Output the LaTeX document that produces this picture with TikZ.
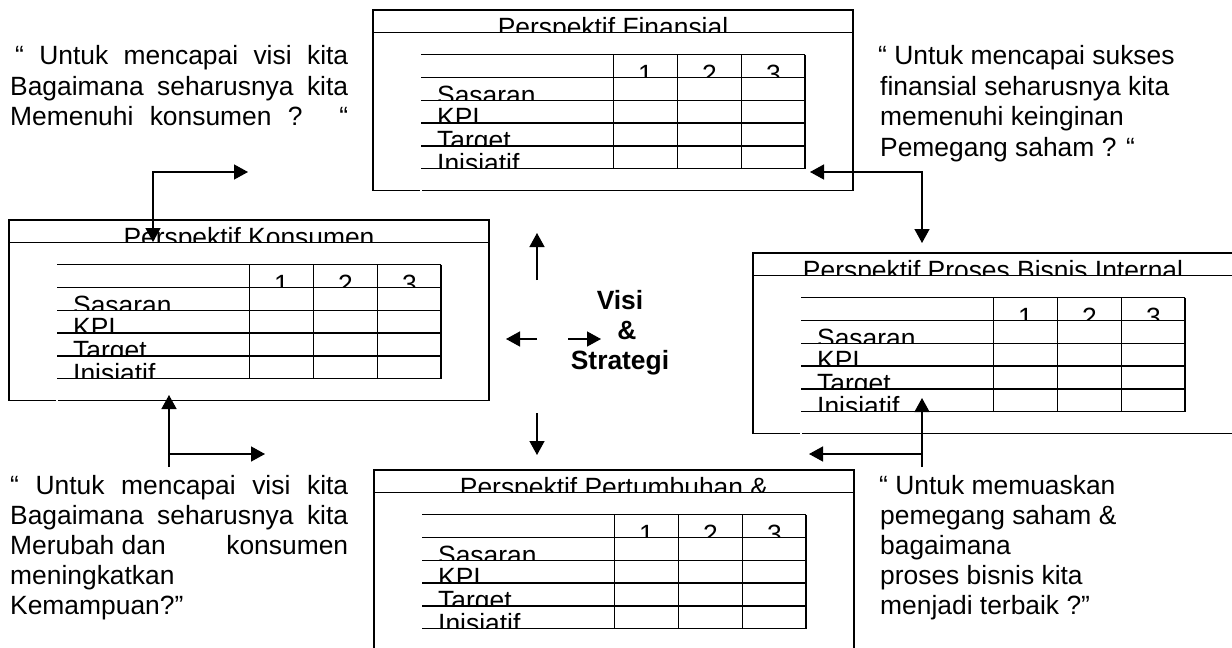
\documentclass[tikz,border=0pt]{standalone}
\usepackage{fontspec}
\setmainfont{Liberation Sans}
\usetikzlibrary{arrows.meta}

\newcommand\bigfont{\fontsize{26.4}{30.4}\selectfont}

\tikzset{
  frame/.style={line width=1.8pt},
  grid/.style={line width=1.8pt},
  tip/.tip={Triangle[length=14pt,width=15pt]},
  link/.style={line width=1.4pt,-tip},
  link2/.style={line width=1.4pt,tip-tip},
  txt/.style={inner sep=0pt,anchor=base west,font=\bigfont},
  cut/.style={inner sep=0pt,anchor=base,font=\bigfont},
  lbl/.style={inner sep=0pt,anchor=base west,font=\bigfont},
  hub/.style={inner sep=0pt,anchor=base,font=\bigfont\bfseries},
}

% One perspective card: frame, title strip and a 4x3 scorecard table.
% #1 = name prefix, #2/#3 = top-left corner, #4 = title
\newcommand\perspcard[4]{%
\begin{scope}[shift={(#2,#3)}]
  \draw[frame] (46.5,180.5) -- (0,180.5) -- (0,0) -- (480,0) -- (480,180.5) -- (49,180.5);
  \draw[frame] (0,22.5) -- (480,22.5);
  \begin{scope}
    \clip (0,0) rectangle (480,22.5);
    \node[cut] (#1-title) at (240,26.5) {#4};
  \end{scope}
  \foreach \r in {44.5,67.5,90.5,113,136,158.5} \draw[grid] (48,\r) -- (432,\r);
  \foreach \c in {240.5,304.5,368.5,432} \draw[grid] (\c,44.5) -- (\c,158.5);
  \begin{scope}
    \clip (48,44.5) rectangle (432,67.5);
    \node[cut] (#1-h1) at (272.5,73.5) {1};
    \node[cut] (#1-h2) at (336.5,73.5) {2};
    \node[cut] (#1-h3) at (400.5,73.5) {3};
  \end{scope}
  \begin{scope}
    \clip (48,67.5) rectangle (240,90.5);
    \node[lbl] (#1-sas) at (64,94) {Sasaran};
  \end{scope}
  \begin{scope}
    \clip (48,90.5) rectangle (240,113);
    \node[lbl] (#1-kpi) at (64,116.5) {KPI};
  \end{scope}
  \begin{scope}
    \clip (48,113) rectangle (240,136);
    \node[lbl] (#1-tgt) at (64,139.5) {Target};
  \end{scope}
  \begin{scope}
    \clip (48,136) rectangle (240,158.5);
    \node[lbl] (#1-ini) at (64,162) {Inisiatif};
  \end{scope}
\end{scope}}

\begin{document}
\begin{tikzpicture}[x=1pt,y=-1pt]
\clip (0,0) rectangle (1232,648);
\fill[white] (0,0) rectangle (1232,648);

% the four perspectives
\perspcard{fin}{373}{10}{Perspektif Finansial}
\perspcard{kon}{9}{220}{Perspektif Konsumen}
\perspcard{pbi}{753}{253}{Perspektif Proses Bisnis Internal}
\perspcard{ptb}{374}{470}{Perspektif Pertumbuhan \&}

% guiding questions
\node[txt] (qk1) at (15,64.5) {\makebox[333pt][s]{“ Untuk mencapai visi kita}};
\node[txt] (qk2) at (10,95) {\makebox[338pt][s]{Bagaimana seharusnya kita}};
\node[txt] (qk3) at (10,125.5) {\makebox[338pt][s]{Memenuhi konsumen ? “}};

\node[txt] (qf1) at (878,64.5) {“ Untuk mencapai sukses};
\node[txt] (qf2) at (880,95) {finansial seharusnya kita};
\node[txt] (qf3) at (880,125.5) {memenuhi keinginan};
\node[txt] (qf4) at (880,156) {Pemegang saham ? “};

\node[txt] (qp1) at (10,494) {\makebox[338pt][s]{“ Untuk mencapai visi kita}};
\node[txt] (qp2) at (10,524) {\makebox[338pt][s]{Bagaimana seharusnya kita}};
\node[txt] (qp3) at (10,554) {\makebox[338pt]{Merubah dan\hfill konsumen}};
\node[txt] (qp4) at (10,584) {meningkatkan};
\node[txt] (qp5) at (10,614) {Kemampuan?”};

\node[txt] (qb1) at (879,494) {“ Untuk memuaskan};
\node[txt] (qb2) at (880,524) {pemegang saham \&};
\node[txt] (qb3) at (880,554) {bagaimana};
\node[txt] (qb4) at (880,584) {proses bisnis kita};
\node[txt] (qb5) at (880,614) {menjadi terbaik ?”};

% centre
\node[hub] (visi) at (620,309.5) {Visi};
\node[hub] (amp) at (627,339.5) {\&};
\node[hub] (strat) at (620,369.5) {Strategi};

\coordinate (upS) at (537,280);  \coordinate (upE) at (537,233);
\coordinate (lfS) at (537,339);  \coordinate (lfE) at (506,339);
\coordinate (rtS) at (568,339);  \coordinate (rtE) at (601,339);
\coordinate (dnS) at (537,413);  \coordinate (dnE) at (537,455);
\draw[link] (upS) -- (upE);
\draw[link] (lfS) -- (lfE);
\draw[link] (rtS) -- (rtE);
\draw[link] (dnS) -- (dnE);

% links between the cards
\coordinate (tlA) at (248,172);  \coordinate (tlB) at (153,242);
\draw[link2] (tlA) -| (tlB);

\coordinate (trA) at (810,172);  \coordinate (trB) at (922,243);
\draw[link2] (trA) -| (trB);

\coordinate (blS) at (169,467);  \coordinate (blT) at (169,395);
\coordinate (blJ) at (169,454);  \coordinate (blR) at (265,454);
\draw[link] (blS) -- (blT);
\draw[link] (blJ) -- (blR);

\coordinate (brS) at (922,467);  \coordinate (brT) at (922,398);
\coordinate (brJ) at (922,454);  \coordinate (brL) at (809,454);
\draw[link] (brS) -- (brT);
\draw[link] (brJ) -- (brL);
\end{tikzpicture}
\end{document}
